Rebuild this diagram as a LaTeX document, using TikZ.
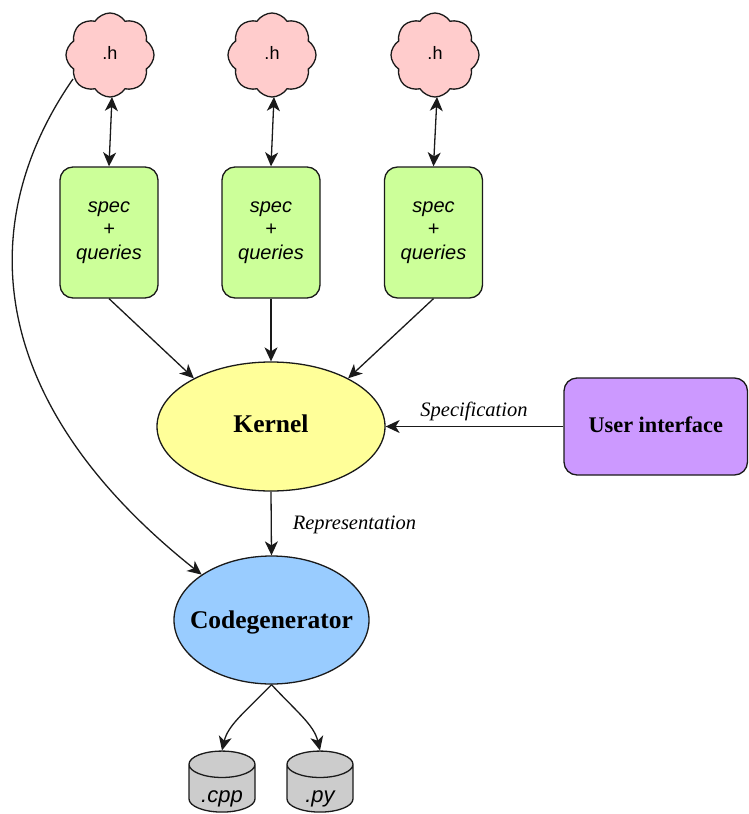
\documentclass[tikz,border=0pt]{standalone}
\usepackage{fontspec}
\setmainfont{Liberation Serif}
\setsansfont{Liberation Sans}
\usetikzlibrary{shapes.geometric,shapes.symbols,arrows.meta,calc}
\definecolor{cloudc}{HTML}{FFCCCC}
\definecolor{greenc}{HTML}{CCFF99}
\definecolor{yellowc}{HTML}{FFFF99}
\definecolor{bluec}{HTML}{99CCFF}
\definecolor{purplec}{HTML}{CC99FF}
\definecolor{greyc}{HTML}{CCCCCC}
\definecolor{linec}{HTML}{1A1A1A}
\newcommand{\slim}[2]{\raisebox{#1}[0pt][0pt]{\makebox[0pt][c]{#2}}}
\tikzset{
  hdr/.style={shape=cloud,cloud puffs=8,cloud puff arc=115,aspect=1,draw=linec,line width=1.3pt,fill=cloudc,
    inner sep=0pt,minimum width=88pt,minimum height=84pt,text height=12.5pt,text depth=0pt,font=\sffamily\fontsize{18}{20}\selectfont},
  specbox/.style={rectangle,rounded corners=13pt,draw=linec,line width=1.3pt,fill=greenc,minimum width=98pt,minimum height=131pt,
    align=center,font=\sffamily\itshape\fontsize{20}{23.5}\selectfont,inner sep=0pt},
  uibox/.style={rectangle,rounded corners=13pt,draw=linec,line width=1.3pt,fill=purplec,minimum width=183.5pt,minimum height=97pt,
    text height=15pt,text depth=0pt,font=\bfseries\fontsize{22.3}{24}\selectfont,inner sep=0pt},
  oval/.style={ellipse,draw=linec,line width=1.3pt,text height=17pt,text depth=0pt,font=\bfseries\fontsize{25.5}{28}\selectfont,inner sep=0pt},
  db/.style={cylinder,shape border rotate=90,aspect=1.1,draw=linec,line width=1.3pt,fill=greyc,minimum width=66pt,minimum height=61pt,
    text width=24pt,align=center,text height=15pt,text depth=4pt,inner sep=0pt,font=\sffamily\itshape\fontsize{22}{24}\selectfont},
  conn/.style={draw=linec,line width=1.3pt,-{Stealth[length=14pt,width=13pt,inset=4pt]}},
  biconn/.style={draw=linec,line width=1.3pt,{Stealth[length=14pt,width=13pt,inset=4pt]}-{Stealth[length=14pt,width=13pt,inset=4pt]}},
  lab/.style={font=\itshape\fontsize{20.5}{22}\selectfont,inner sep=0pt}
}
\begin{document}
\begin{tikzpicture}[x=1pt,y=-1pt]
\useasboundingbox (0,0) rectangle (748,814);
\node[hdr] (c1) at (110,55) {\slim{2pt}{.h}};
\node[hdr] (c2) at (272,55) {\slim{2pt}{.h}};
\node[hdr] (c3) at (435,55) {\slim{2pt}{.h}};
\node[specbox] (s1) at (109,232.5) {spec\\+\\queries};
\node[specbox] (s2) at (271,232.5) {spec\\+\\queries};
\node[specbox] (s3) at (433.5,232.5) {spec\\+\\queries};
\node[oval,fill=yellowc,minimum width=228pt,minimum height=129pt] (k) at (271,426.5) {\slim{2.5pt}{Kernel}};
\node[oval,fill=bluec,minimum width=195pt,minimum height=128pt] (g) at (271.5,620) {\slim{0pt}{Codegenerator}};
\node[uibox] (ui) at (655.75,426.5) {\slim{2pt}{User interface}};
\node[db] (cpp) at (222,788.5) {\slim{-8pt}{.cpp}};
\node[db] (py) at (320,788.5) {\slim{-8pt}{.py}};
\node[lab] (ls) at (474,411) {Specification};
\node[lab] (lr) at (354.5,525) {Representation};

\coordinate (c1b) at (112,97);
\coordinate (c2b) at (274,97);
\coordinate (c3b) at (437,97);
\coordinate (c1l) at (73,79);
\draw[biconn] (c1b) -- (s1.north);
\draw[biconn] (c2b) -- (s2.north);
\draw[biconn] (c3b) -- (s3.north);
\draw[conn] (s1.south) -- (k.148);
\draw[conn] (s2.south) -- (k.north);
\draw[conn] (s3.south) -- (k.32);
\draw[conn] (ui.west) -- (k.east);
\draw[conn] (k.south) -- (g.north);
\draw[conn] (c1l) .. controls (-25,220) and (-18,400) .. (g.147);
\draw[conn] (g.south) .. controls (245,712) and (228,725) .. (cpp.north);
\draw[conn] (g.south) .. controls (297,712) and (314,725) .. (py.north);
\end{tikzpicture}
\end{document}
